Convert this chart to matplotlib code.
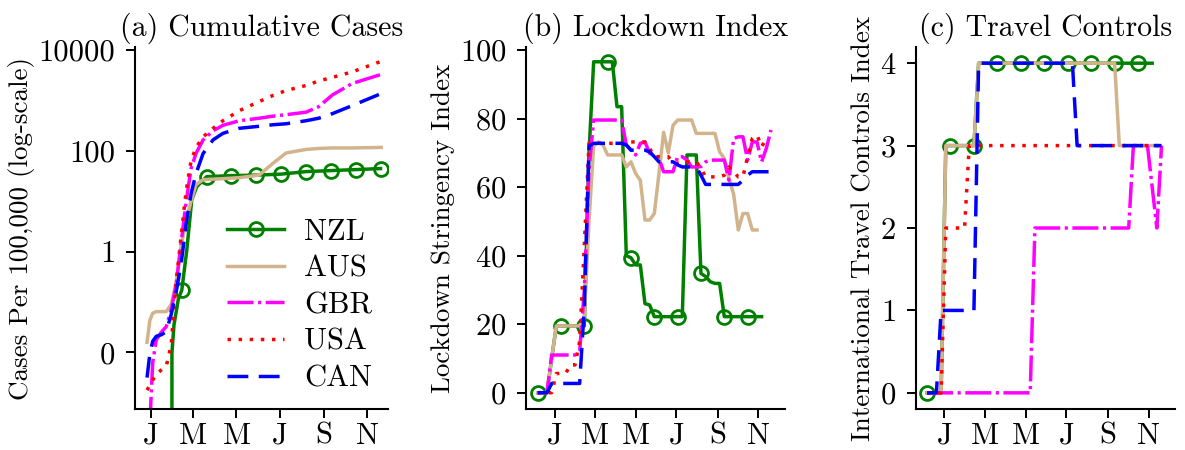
import numpy as np
import matplotlib.pyplot as plt

plt.rcParams["font.family"] = "cmr10"
plt.rcParams["mathtext.fontset"] = "cm"
plt.rcParams["axes.formatter.use_mathtext"] = True

# ---- panel (a): cumulative cases per 100k, log10 values
days_a = [-5, -1, 3, 8, 15, 22, 29, 36, 43, 50, 57, 64, 74, 88, 102, 125,
          153, 172, 191, 219, 237, 256, 284, 325]
aus_log = [-1.8, -1.36, -1.22, -1.19, -1.19, -1.19, -1.05, -0.6, 0.12, 0.6, 1.0,
           1.33, 1.43, 1.44, 1.45, 1.47, 1.52, 1.75, 1.96, 2.03, 2.05, 2.06, 2.06, 2.07]
gbr_log = [np.nan, -3.4, -2.2, -1.75, -1.6, -1.49, -1.16, -0.66, 0.17, 0.98, 1.65,
           1.95, 2.22, 2.4, 2.51, 2.6, 2.65, 2.69, 2.72, 2.77, 2.88, 3.11, 3.34, 3.52]
usa_log = [-2.75, -2.65, -2.55, -2.43, -2.35, -2.28, -1.85, -0.6, 0.3, 1.2, 1.8,
           2.07, 2.28, 2.45, 2.6, 2.8, 2.98, 3.1, 3.2, 3.3, 3.39, 3.46, 3.57, 3.78]
can_log = [-2.5, -2.02, -1.78, -1.68, -1.65, -1.59, -1.25, -0.8, -0.25, 0.55, 1.15,
           1.55, 1.95, 2.22, 2.35, 2.45, 2.49, 2.52, 2.54, 2.6, 2.65, 2.74, 2.9, 3.14]
nzl_days_a = [30, 30.1, 33, 39, 44, 51, 58, 65, 79, 114, 149, 184, 219, 254, 289, 324]
nzl_log = [-5, -2.0, -1.45, -0.95, -0.76, 0.03, 1.03, 1.29, 1.49, 1.51, 1.52,
           1.54, 1.59, 1.61, 1.63, 1.65]
nzl_marks_a = [4, 8, 9, 10, 11, 12, 13, 14, 15]

# ---- weekly samples (days from 1 Jan 2020) for panels (b) and (c)
weeks = np.arange(-26, 325, 7)

nzl_b = [0, 0, 0, 10, 19.5, 19.5, 19.5, 19.5, 19.5, 19.5, 19.5, 70, 96.6, 96.6,
         96.6, 96.6, 96.6, 83.5, 83.5, 40, 39.4, 37.3, 37.3, 26, 25.6, 22.2, 22.2,
         22.2, 22.2, 22.2, 22.2, 22.2, 69.4, 69.4, 69.4, 34.8, 33.9, 32.4, 31.9,
         31.9, 22.2, 22.2, 22.2, 22.2, 22.2, 22.2, 22.2, 22.2, 22.2]
aus_b = [0, 0, 0, 10, 19.5, 19.5, 19.5, 19.5, 19.5, 19.5, 22, 50, 72, 73.2, 72.3,
         69.4, 69.4, 69.4, 69.4, 65.9, 67.4, 64, 62, 50.4, 50.4, 52.3, 64, 76, 70,
         78, 79.6, 79.6, 79.6, 79.6, 75.7, 75.7, 75.7, 75.7, 75.7, 70.3, 68.4, 62.6,
         58, 47.5, 52.3, 52.3, 47.5, 47.5]
gbr_b = [0, 0, 0, 11, 11, 11, 11, 11, 11, 12, 30, 65, 79.6, 79.6, 79.6, 79.6, 79.6,
         79.6, 79.6, 72.3, 70.8, 69.4, 72.8, 73.2, 69.9, 69.4, 68.4, 64.5, 64.5,
         64.5, 68.9, 68.9, 67.9, 65.9, 65.9, 66, 67.4, 67.9, 67.9, 67.9, 67.9, 62,
         74.2, 74.7, 74.7, 67.9, 73.2, 73.2, 67.4, 71.3, 76.7]
usa_b = [0, 0, 0, 0, 5.6, 5.6, 5.6, 8.1, 8.1, 15, 43, 72.8, 72.8, 72.8, 72.8, 72.8,
         72.8, 72.8, 72.8, 72.8, 73.2, 73.2, 73.2, 73.2, 71.3, 68.9, 68.9, 68.9,
         68.9, 67, 67, 67, 67.4, 67.4, 67.4, 65.5, 63, 63, 63, 63, 63.5, 65.9, 64.5,
         63, 63, 68.9, 74.2, 75.2, 71.8, 74.2]
can_b = [0, 0, 0, 2.7, 2.7, 2.7, 2.7, 2.7, 2.7, 2.7, 25, 72, 72.8, 72.8, 72.8, 72.8,
         72.8, 72.8, 72.8, 72.3, 70.8, 70.8, 70.8, 70.8, 70.3, 68.9, 67.4, 67.4,
         67.4, 67.4, 66.5, 65.9, 65.9, 65.9, 65.9, 63.5, 60.8, 60.8, 60.8, 60.8,
         60.8, 60.8, 60.8, 60.8, 62, 63.5, 64.5, 64.5, 64.5, 64.5, 64.5]

nzl_c = [0] * 4 + [3] * 7 + [4] * 38
aus_c = [0] * 4 + [3] * 7 + [4] * 30 + [3] * 9
gbr_c = [0] * 23 + [2] * 21 + [3] * 4 + [2.5, 2, 3]
usa_c = [0] * 4 + [2] * 5 + [3] * 42
can_c = [0] * 3 + [1] * 8 + [4] * 21 + [3] * 19

month_ticks = [0, 60, 121, 182, 244, 305]
month_labels = ["J", "M", "M", "J", "S", "N"]

styles = {
    "NZL": dict(color="green", ls="-", marker="o", mfc="none", ms=10, mew=2),
    "AUS": dict(color="tan", ls="-"),
    "GBR": dict(color="magenta", dashes=(7.5, 1.3, 0.9, 1.3)),
    "USA": dict(color="red", dashes=(1, 2.2)),
    "CAN": dict(color="blue", dashes=(6, 3)),
}
lw = 2.5
tick_fs = 22
label_fs = 19.5

fig = plt.figure(figsize=(11.85, 4.5), dpi=100)
ax1 = fig.add_axes([0.1139, 0.0904, 0.2138, 0.8058])
ax2 = fig.add_axes([0.4436, 0.0904, 0.2188, 0.8058])
ax3 = fig.add_axes([0.7727, 0.0904, 0.2188, 0.8058])

# (a)
ax1.plot(nzl_days_a, 10 ** np.array(nzl_log), lw=lw, markevery=nzl_marks_a,
         label="NZL", **styles["NZL"])
for name, vals in [("AUS", aus_log), ("GBR", gbr_log), ("USA", usa_log), ("CAN", can_log)]:
    ax1.plot(days_a, 10 ** np.array(vals), lw=lw, label=name, **styles[name])
ax1.set_yscale("log")
ax1.set_ylim(10 ** -3.13, 10 ** 4.07)
ax1.set_xlim(-22, 335)
ax1.set_yticks([0.01, 1, 100, 10000])
ax1.set_yticklabels(["0", "1", "100", "10000"])
ax1.yaxis.set_minor_locator(plt.NullLocator())
ax1.set_ylabel("Cases Per 100,000 (log-scale)", fontsize=label_fs, labelpad=3)
ax1.set_title("(a) Cumulative Cases", fontsize=21.5, pad=8)
ax1.legend(loc="lower right", bbox_to_anchor=(0.985, 0.013), borderaxespad=0,
           frameon=False, fontsize=tick_fs, handlelength=1.87, handletextpad=0.65,
           labelspacing=0.3)

# (b)
for name, vals in [("NZL", nzl_b), ("AUS", aus_b), ("GBR", gbr_b), ("USA", usa_b), ("CAN", can_b)]:
    kw = dict(markevery=5) if name == "NZL" else {}
    ax2.plot(weeks[:len(vals)], vals, lw=lw, **kw, **styles[name])
ax2.set_xlim(-44, 345)
ax2.set_ylim(-4.85, 101)
ax2.set_yticks([0, 20, 40, 60, 80, 100])
ax2.set_ylabel("Lockdown Stringency Index", fontsize=label_fs, labelpad=3)
ax2.set_title("(b) Lockdown Index", fontsize=21.5, pad=8)

# (c)
for name, vals in [("NZL", nzl_c), ("AUS", aus_c), ("GBR", gbr_c), ("USA", usa_c), ("CAN", can_c)]:
    kw = dict(markevery=5) if name == "NZL" else {}
    ax3.plot(weeks[:len(vals)], vals, lw=lw, **kw, **styles[name])
ax3.set_xlim(-43, 344)
ax3.set_ylim(-0.2, 4.2)
ax3.set_yticks([0, 1, 2, 3, 4])
ax3.set_ylabel("International Travel Controls Index", fontsize=label_fs, labelpad=3)
ax3.set_title("(c) Travel Controls", fontsize=21.5, pad=8)

for ax in (ax1, ax2, ax3):
    ax.spines["top"].set_visible(False)
    ax.spines["right"].set_visible(False)
    ax.spines["left"].set_linewidth(1.5)
    ax.spines["bottom"].set_linewidth(1.5)
    ax.set_xticks(month_ticks)
    ax.set_xticklabels(month_labels)
    ax.tick_params(labelsize=tick_fs, length=6.5, width=1.4)
    ax.tick_params(axis="x", pad=3)
    ax.tick_params(axis="y", pad=7.5)

fig.savefig("out.png", dpi=100)
